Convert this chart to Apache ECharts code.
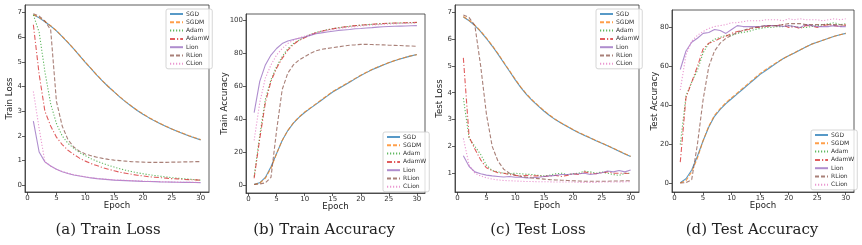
<!DOCTYPE html>
<html>
<head>
<meta charset="utf-8">
<script src="https://cdn.jsdelivr.net/npm/echarts@6/dist/echarts.min.js"></script>
<style>
  html, body { margin: 0; background: #fff; }
  #main { width: 862px; height: 245px; }
</style>
</head>
<body>
<div id="main"></div>
<script>
  // data
  const epochs = [1, 2, 3, 4, 5, 6, 7, 8, 9, 10, 11, 12, 13, 14, 15, 16, 17, 18, 19, 20, 21, 22, 23, 24, 25, 26, 27, 28, 29, 30]
  const methods = ['SGD', 'SGDM', 'Adam', 'AdamW', 'Lion', 'RLion', 'CLion']
  const xTicks = [0, 5, 10, 15, 20, 25, 30]

  // one row per method, same order as methods
  const trainLoss = [
    [6.90, 6.78, 6.62, 6.45, 6.25, 6.02, 5.78, 5.52, 5.25, 4.98, 4.72, 4.46, 4.22, 3.99, 3.78, 3.57, 3.38, 3.20, 3.03, 2.88, 2.74, 2.61, 2.49, 2.38, 2.28, 2.18, 2.09, 2.00, 1.92, 1.84],
    [6.91, 6.80, 6.64, 6.46, 6.26, 6.03, 5.79, 5.53, 5.26, 4.99, 4.73, 4.47, 4.23, 4.00, 3.79, 3.58, 3.39, 3.21, 3.04, 2.89, 2.75, 2.62, 2.50, 2.39, 2.28, 2.19, 2.10, 2.01, 1.93, 1.85],
    [6.90, 6.20, 4.60, 3.30, 2.50, 2.00, 1.70, 1.50, 1.33, 1.20, 1.08, 0.98, 0.89, 0.81, 0.74, 0.67, 0.61, 0.56, 0.51, 0.47, 0.43, 0.40, 0.37, 0.34, 0.31, 0.29, 0.27, 0.25, 0.23, 0.21],
    [6.50, 4.50, 3.00, 2.40, 1.95, 1.65, 1.42, 1.25, 1.10, 0.98, 0.88, 0.80, 0.72, 0.65, 0.59, 0.53, 0.49, 0.45, 0.41, 0.38, 0.35, 0.33, 0.31, 0.29, 0.27, 0.26, 0.24, 0.23, 0.22, 0.21],
    [2.60, 1.35, 0.95, 0.78, 0.65, 0.55, 0.48, 0.42, 0.38, 0.34, 0.30, 0.27, 0.25, 0.23, 0.21, 0.20, 0.19, 0.18, 0.17, 0.16, 0.155, 0.15, 0.14, 0.135, 0.13, 0.125, 0.12, 0.12, 0.115, 0.11],
    [6.95, 6.85, 6.65, 6.30, 3.40, 2.40, 1.85, 1.55, 1.38, 1.27, 1.20, 1.14, 1.09, 1.05, 1.02, 1.00, 0.98, 0.96, 0.95, 0.94, 0.93, 0.93, 0.93, 0.93, 0.94, 0.94, 0.95, 0.95, 0.96, 0.96],
    [3.80, 2.30, 0.95, 0.78, 0.65, 0.56, 0.49, 0.43, 0.39, 0.35, 0.31, 0.28, 0.26, 0.24, 0.22, 0.21, 0.20, 0.19, 0.18, 0.17, 0.16, 0.155, 0.15, 0.14, 0.135, 0.13, 0.125, 0.12, 0.12, 0.115]
  ]
  const trainAcc = [
    [0.3, 1.2, 4.5, 11, 19, 27, 33, 37.5, 41, 44, 46.5, 49, 51.5, 54, 56.5, 58.5, 60.5, 62.5, 64.5, 66.5, 68.3, 70, 71.5, 73, 74.3, 75.5, 76.6, 77.6, 78.5, 79.3],
    [0.2, 1.0, 4.0, 10, 19, 27, 33, 37.8, 41.3, 44.3, 46.8, 49.3, 51.8, 54.3, 56.8, 58.8, 60.8, 62.8, 64.8, 66.7, 68.5, 70.2, 71.7, 73.1, 74.4, 75.6, 76.7, 77.7, 78.6, 79.2],
    [5, 30, 52, 64, 72, 78, 83, 86, 88, 90, 91.5, 92.7, 93.6, 94.4, 95, 95.6, 96.1, 96.5, 96.9, 97.2, 97.5, 97.7, 97.9, 98.1, 98.3, 98.4, 98.5, 98.6, 98.7, 98.8],
    [4, 28, 50, 63, 71, 77, 82, 85.5, 88, 89.5, 91.2, 92.5, 93.5, 94.3, 95, 95.6, 96.1, 96.5, 96.9, 97.2, 97.5, 97.8, 98, 98.2, 98.4, 98.5, 98.6, 98.7, 98.8, 98.9],
    [44, 63, 73, 79, 83, 86, 87.5, 88.5, 89.2, 90, 91, 92, 92.5, 93, 93.5, 94, 94.3, 94.6, 95, 95.2, 95.5, 95.7, 96, 96.2, 96.4, 96.5, 96.6, 96.7, 96.8, 96.9],
    [0.2, 0.5, 1.2, 4.5, 33, 58, 68, 73, 76, 78, 80, 81.5, 82.5, 83, 83.5, 84, 84.5, 85, 85.2, 85.5, 85.5, 85.4, 85.3, 85.2, 85, 84.9, 84.8, 84.6, 84.5, 84.3],
    [27, 50, 65, 73, 79, 83, 86, 88, 89.5, 90.5, 91.5, 92.5, 93.3, 94, 94.6, 95.1, 95.6, 96, 96.4, 96.7, 97, 97.3, 97.5, 97.7, 97.9, 98.1, 98.2, 98.3, 98.4, 98.5]
  ]
  const testLoss = [
    [6.82, 6.68, 6.50, 6.28, 6.02, 5.74, 5.44, 5.12, 4.80, 4.48, 4.18, 3.92, 3.70, 3.50, 3.31, 3.14, 2.99, 2.86, 2.74, 2.62, 2.51, 2.41, 2.31, 2.21, 2.12, 2.02, 1.92, 1.82, 1.72, 1.62],
    [6.84, 6.70, 6.52, 6.30, 6.04, 5.76, 5.46, 5.14, 4.82, 4.50, 4.20, 3.94, 3.72, 3.52, 3.33, 3.16, 3.00, 2.87, 2.75, 2.63, 2.52, 2.42, 2.32, 2.22, 2.13, 2.03, 1.93, 1.83, 1.73, 1.63],
    [3.80, 2.30, 2.00, 1.70, 1.30, 1.10, 1.05, 1.00, 0.98, 1.00, 0.98, 0.96, 0.95, 0.92, 0.90, 0.93, 0.98, 1.00, 0.95, 0.98, 1.00, 1.08, 1.05, 1.00, 1.05, 1.00, 0.95, 0.92, 1.00, 1.00],
    [5.30, 2.35, 1.90, 1.50, 1.20, 1.10, 1.02, 1.00, 0.95, 0.92, 0.90, 0.92, 0.90, 0.90, 0.88, 0.90, 0.92, 0.88, 0.92, 0.98, 0.95, 1.05, 1.00, 0.98, 1.02, 1.05, 1.00, 1.00, 1.00, 0.98],
    [1.65, 1.25, 1.05, 0.98, 0.93, 0.90, 0.88, 0.86, 0.88, 0.85, 0.85, 0.82, 0.83, 0.85, 0.88, 0.90, 0.92, 0.95, 0.95, 0.97, 0.98, 1.00, 0.95, 0.98, 1.02, 1.08, 1.05, 1.10, 1.05, 1.12],
    [6.90, 6.80, 6.50, 5.00, 3.20, 2.00, 1.45, 1.15, 1.00, 0.93, 0.88, 0.85, 0.82, 0.80, 0.78, 0.76, 0.75, 0.74, 0.73, 0.72, 0.71, 0.70, 0.70, 0.70, 0.70, 0.70, 0.71, 0.71, 0.72, 0.72],
    [2.30, 1.30, 1.00, 0.90, 0.83, 0.78, 0.75, 0.73, 0.72, 0.71, 0.70, 0.69, 0.69, 0.68, 0.68, 0.68, 0.67, 0.67, 0.67, 0.67, 0.66, 0.66, 0.66, 0.66, 0.67, 0.67, 0.67, 0.67, 0.68, 0.68]
  ]
  const testAcc = [
    [0.5, 2.5, 7, 14, 22, 29, 34.5, 38, 41, 43.5, 46, 48.5, 51, 53.5, 56, 58, 60, 62, 64, 65.5, 67, 68.5, 70, 71.5, 72.5, 73.5, 74.5, 75.5, 76.3, 77],
    [0.3, 1.5, 6, 13, 22, 29.5, 35, 38.5, 41.5, 44, 46.5, 49, 51.5, 54, 56.5, 58.5, 60.5, 62.3, 64, 65.6, 67.1, 68.6, 70, 71.4, 72.5, 73.5, 74.5, 75.5, 76.3, 77],
    [20, 45, 52, 58, 67, 72, 74, 75, 76, 76, 77, 77.5, 78, 79, 79.5, 80, 80, 80.5, 80.5, 81, 80.5, 80, 80, 80.5, 81, 81.5, 82, 82.5, 81.5, 82],
    [11, 44, 52, 60, 69, 72, 73, 74.5, 75.5, 77, 78, 78.5, 79, 80, 80, 80.5, 81, 81, 81.5, 80, 80.5, 79.5, 81, 81, 80, 81, 81.5, 81, 80.5, 81.5],
    [58.5, 68, 72.5, 74.5, 77, 77.5, 79, 78.5, 77, 79, 81, 80.5, 80.5, 80.5, 80.5, 81, 81, 81, 80.5, 81, 80.5, 80, 81.5, 81, 80.5, 80.5, 80.5, 81, 80.5, 80.5],
    [0.3, 0.5, 2, 20, 43, 60, 68, 72, 74.5, 76, 77.5, 78.5, 79.5, 80, 80.5, 81, 81, 81, 81.5, 82, 82, 82, 81.5, 81.5, 81.5, 81.5, 81.5, 81.5, 81.5, 81],
    [48, 66, 73, 76, 78, 79.5, 80.5, 81, 81.5, 82.5, 82.5, 83, 83.5, 83.5, 83.5, 84, 84, 84, 83.5, 84.5, 84, 84.5, 84, 84, 84, 83.5, 84, 84.5, 84, 84.5]
  ]

  const colors = ['#1f77b4', '#ff7f0e', '#2ca02c', '#d62728', '#9467bd', '#8c564b', '#e377c2']
  const dashes = ['solid', [4, 2], [1.2, 1.8], [5, 2, 1.2, 2], 'solid', [4, 2], [1.2, 1.8]]

  // 每个子图的布局
  const panels = [
    { values: trainLoss, yName: 'Train Loss', caption: '(a) Train Loss', grid: [25, 5, 184, 187], yMin: -0.27, yMax: 7.3, yTicks: [0, 1, 2, 3, 4, 5, 6, 7], nameGap: 11, legend: [166, 9], capX: 108 },
    { values: trainAcc, yName: 'Train Accuracy', caption: '(b) Train Accuracy', grid: [246, 14, 179, 179], yMin: -5, yMax: 104, yTicks: [0, 20, 40, 60, 80, 100], nameGap: 17, legend: [383, 132], capX: 324 },
    { values: testLoss, yName: 'Test Loss', caption: '(c) Test Loss', grid: [455, 5, 184, 187], yMin: 0.3, yMax: 7.27, yTicks: [1, 2, 3, 4, 5, 6, 7], nameGap: 11, legend: [596, 9], capX: 538 },
    { values: testAcc, yName: 'Test Accuracy', caption: '(d) Test Accuracy', grid: [672, 10, 182, 182], yMin: -4.3, yMax: 89, yTicks: [0, 20, 40, 60, 80], nameGap: 13, legend: [811, 130], capX: 752 }
  ]

  const tickStyle = { color: '#333', width: 0.8 }
  const labelStyle = { fontSize: 7, color: '#333', fontFamily: 'DejaVu Sans' }
  const nameStyle = { fontSize: 8.6, color: '#222', fontFamily: 'DejaVu Sans' }

  let series = []
  panels.forEach(function (p, idx) {
    methods.forEach(function (m, i) {
      series.push({
        name: m,
        type: 'line',
        xAxisIndex: idx,
        yAxisIndex: idx,
        symbol: 'none',
        animation: false,
        data: epochs.map((e, k) => [e, p.values[i][k]]),
        lineStyle: { color: colors[i], width: 1.1, type: dashes[i], opacity: 0.75 },
        itemStyle: { color: colors[i] }
      })
    })
  })

  let myChart = echarts.init(document.getElementById('main'))
  myChart.setOption({
    backgroundColor: '#fff',
    animation: false,
    grid: panels.map(p => ({
      left: p.grid[0], top: p.grid[1], width: p.grid[2], height: p.grid[3],
      show: true, borderColor: '#333', borderWidth: 0.8, backgroundColor: 'transparent'
    })),
    xAxis: panels.map((p, idx) => ({
      type: 'value', gridIndex: idx, min: -0.45, max: 31.45,
      name: 'Epoch', nameLocation: 'middle', nameGap: 9.5, nameMoveOverlap: false, nameTextStyle: nameStyle,
      axisLine: { show: true, onZero: false, lineStyle: tickStyle },
      axisTick: { show: true, customValues: xTicks, length: 3, lineStyle: tickStyle },
      axisLabel: { customValues: xTicks, margin: 3, ...labelStyle },
      splitLine: { show: false }
    })),
    yAxis: panels.map((p, idx) => ({
      type: 'value', gridIndex: idx, min: p.yMin, max: p.yMax,
      name: p.yName, nameLocation: 'middle', nameGap: p.nameGap, nameMoveOverlap: false, nameTextStyle: nameStyle,
      axisLine: { show: true, onZero: false, lineStyle: tickStyle },
      axisTick: { show: true, customValues: p.yTicks, length: 3, lineStyle: tickStyle },
      axisLabel: { customValues: p.yTicks, margin: 3, ...labelStyle },
      splitLine: { show: false }
    })),
    legend: panels.map(p => ({
      data: methods,
      orient: 'vertical',
      left: p.legend[0], top: p.legend[1],
      itemWidth: 13, itemHeight: 6, itemGap: 2.3,
      padding: [2, 3, 2, 3],
      borderColor: '#ccc', borderWidth: 0.8, borderRadius: 2,
      backgroundColor: 'rgba(255,255,255,0.8)',
      itemStyle: { opacity: 0 },
      textStyle: { fontSize: 6, color: '#333', fontFamily: 'DejaVu Sans', padding: [0, 0, 0, -2] },
      selectedMode: false
    })),
    graphic: panels.map(p => ({
      type: 'text',
      x: p.capX, y: 230,
      style: {
        text: p.caption, textAlign: 'center', textVerticalAlign: 'middle',
        font: '15px "DejaVu Serif"', fill: '#222'
      }
    })),
    series: series
  })
</script>
</body>
</html>
